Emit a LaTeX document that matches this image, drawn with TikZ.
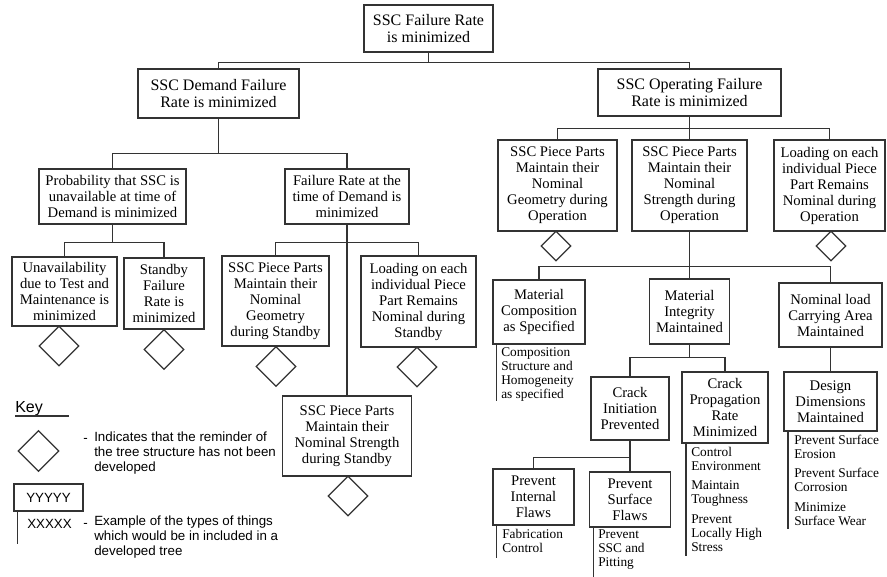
\documentclass[tikz,border=0pt]{standalone}
\usepackage{fontspec}
\setmainfont{Liberation Serif}
\setsansfont{Liberation Sans}
\usetikzlibrary{shapes.geometric}
\begin{document}
\begin{tikzpicture}[x=0.75pt,y=-0.75pt,
  ln/.style={line width=0.9pt, draw=black!80},
  box/.style={ln, rectangle, align=center, inner sep=0pt, font=\fontsize{11}{12}\selectfont},
  bigbox/.style={box, font=\fontsize{12}{13}\selectfont},
  sz/.style 2 args={minimum width={#1*0.75pt}, minimum height={#2*0.75pt}},
  dia/.style={ln, diamond, inner sep=0pt, minimum width={#1*0.75pt}, minimum height={#1*0.75pt}},
  listtxt/.style={anchor=north west, align=left, inner sep=0pt, font=\fontsize{10}{10.5}\selectfont},
  keytxt/.style={anchor=north west, align=left, inner sep=0pt, font=\sffamily\fontsize{10}{11.25}\selectfont}]
\useasboundingbox (0,0) rectangle (887,577);

% level 0-1
\node[bigbox, sz={129}{47}] (root) at (428.5,28.5) {SSC Failure Rate\\is minimized};
\node[bigbox, sz={161}{49}] (dem) at (218.5,93.5) {SSC Demand Failure\\Rate is minimized};
\node[bigbox, sz={183}{47}] (op) at (689.5,92.5) {SSC Operating Failure\\Rate is minimized};

% demand side
\node[box, sz={147}{55}] (prob) at (112.5,196.5) {Probability that SSC is\\unavailable at time of\\Demand is minimized};
\node[box, sz={124}{55}] (frd) at (347,196.5) {Failure Rate at the\\time of Demand is\\minimized};
\node[box, sz={105}{69}] (unav) at (64.5,291.5) {Unavailability\\due to Test and\\Maintenance is\\minimized};
\node[box, sz={80}{71}] (stby) at (164,293.5) {Standby\\Failure\\Rate is\\minimized};
\node[box, sz={107}{90}] (geoS) at (275.5,301) {SSC Piece Parts\\Maintain their\\Nominal\\Geometry\\during Standby};
\node[box, sz={115}{91}] (loadS) at (418.5,301.5) {Loading on each\\individual Piece\\Part Remains\\Nominal during\\Standby};
\node[box, sz={129}{80}] (strS) at (347,436) {SSC Piece Parts\\Maintain their\\Nominal Strength\\during Standby};

% operating side
\node[box, sz={119}{91}] (geoO) at (557.5,185.5) {SSC Piece Parts\\Maintain their\\Nominal\\Geometry during\\Operation};
\node[box, sz={115}{91}] (strO) at (689.5,185.5) {SSC Piece Parts\\Maintain their\\Nominal\\Strength during\\Operation};
\node[box, sz={111}{91}] (loadO) at (829.5,185.5) {Loading on each\\individual Piece\\Part Remains\\Nominal during\\Operation};
\node[box, sz={92}{64}] (mc) at (539,312) {Material\\Composition\\as Specified};
\node[box, sz={80}{65}] (mi) at (689.5,311.5) {Material\\Integrity\\Maintained};
\node[box, sz={103}{64}] (nl) at (830.5,315) {Nominal load\\Carrying Area\\Maintained};
\node[box, sz={78}{63}] (ci) at (630,408.5) {Crack\\Initiation\\Prevented};
\node[box, sz={86}{71}] (cp) at (725,407.5) {Crack\\Propagation\\Rate\\Minimized};
\node[box, sz={93}{59}] (dd) at (830.5,401.5) {Design\\Dimensions\\Maintained};
\node[box, sz={81}{56}] (pif) at (533.5,497) {Prevent\\Internal\\Flaws};
\node[box, sz={81}{55}] (psf) at (630,499.5) {Prevent\\Surface\\Flaws};

% diamonds
\node[dia=40] (dUnav) at (59,346) {};
\node[dia=40] (dStby) at (164,349.5) {};
\node[dia=40] (dGeoS) at (276,366.5) {};
\node[dia=40] (dLoadS) at (417,367) {};
\node[dia=40] (dStrS) at (348,496) {};
\node[dia=30] (dGeoO) at (556,246) {};
\node[dia=30] (dLoadO) at (831,246) {};

% connectors
\draw[ln] (root.south) -- ++(0,10) -| (dem.north);
\draw[ln] (root.south) -- ++(0,10) -| (op.north);
\draw[ln] (dem.south) -- ++(0,35) -| (prob.north);
\draw[ln] (dem.south) -- ++(0,35) -| (frd.north);
\draw[ln] (prob.south) -- ++(0,18) -| (unav.north);
\draw[ln] (prob.south) -- ++(0,18) -| (stby.north);
\draw[ln] (frd.south) -- ++(0,18) -| (geoS.north);
\draw[ln] (frd.south) -- ++(0,18) -| (loadS.north);
\draw[ln] (frd.south) -- (strS.north);
\draw[ln] (op.south) -- ++(0,12) -| (geoO.north);
\draw[ln] (op.south) -- ++(0,12) -| (loadO.north);
\draw[ln] (op.south) -- (strO.north);
\draw[ln] (strO.south) -- ++(0,35) -| (mc.north);
\draw[ln] (strO.south) -- ++(0,35) -| (nl.north);
\draw[ln] (strO.south) -- (mi.north);
\draw[ln] (mi.south) -- ++(0,13) -| (ci.north);
\draw[ln] (mi.south) -- ++(0,13) -| (cp.north);
\draw[ln] (nl.south) -- (dd.north);
\draw[ln] (ci.south) -- ++(0,17) -| (pif.north);
\draw[ln] (ci.south) -- ++(0,17) -| (psf.north);

% lists
\draw[ln] ([xshift=3pt]mc.south west) -- ++(0,56);
\node[listtxt] (lmc) at (501,347) {Composition\\Structure and\\Homogeneity\\as specified};
\draw[ln] ([xshift=3pt]pif.south west) -- ++(0,32);
\node[listtxt] (lpif) at (502,529) {Fabrication\\Control};
\draw[ln] ([xshift=3.5pt]psf.south west) -- ++(0,50);
\node[listtxt] (lpsf) at (598,529) {Prevent\\SSC and\\Pitting};
\draw[ln] ([xshift=3.5pt]cp.south west) -- ++(0,112);
\node[listtxt] (lcp) at (691,447) {Control\\Environment\\[4pt]Maintain\\Toughness\\[4pt]Prevent\\Locally High\\Stress};
\draw[ln] ([xshift=3.5pt]dd.south west) -- ++(0,97);
\node[listtxt] (ldd) at (794,435) {Prevent Surface\\Erosion\\[4pt]Prevent Surface\\Corrosion\\[4pt]Minimize\\Surface Wear};

% key
\node[anchor=base west, inner sep=0pt, font=\sffamily\fontsize{12}{13}\selectfont] (key) at (15,412) {Key};
\draw[ln] (15,416) -- (69,416);
\node[dia=41] (kdia) at (38.5,451) {};
\node[anchor=base west, inner sep=0pt, font=\sffamily\fontsize{10}{11}\selectfont] (kd1) at (83,442) {-};
\node[keytxt] (kt1) at (94,432) {Indicates that the reminder of\\the tree structure has not been\\developed};
\node[box, sz={69}{27}, font=\sffamily\fontsize{10}{11}\selectfont] (kbox) at (48.5,497.5) {YYYYY};
\draw[ln] ([xshift=3pt]kbox.south west) -- ++(0,32);
\node[anchor=west, inner sep=0pt, font=\sffamily\fontsize{10}{11}\selectfont] (kx) at (27,524) {XXXXX};
\node[anchor=base west, inner sep=0pt, font=\sffamily\fontsize{10}{11}\selectfont] (kd2) at (83,527) {-};
\node[keytxt] (kt2) at (94,516) {Example of the types of things\\which would be in included in a\\developed tree};
\end{tikzpicture}
\end{document}
